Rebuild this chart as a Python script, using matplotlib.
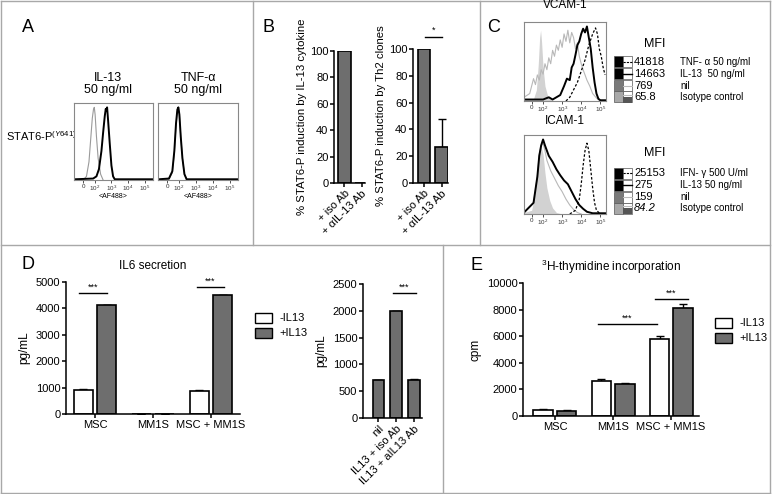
import numpy as np
import matplotlib
matplotlib.use("Agg")
import matplotlib.pyplot as plt
from matplotlib.patches import Rectangle

plt.rcParams['font.family'] = ['Liberation Sans', 'DejaVu Sans']
plt.rcParams['mathtext.fontset'] = 'custom'
plt.rcParams['mathtext.rm'] = 'Liberation Sans'
plt.rcParams['mathtext.it'] = 'Liberation Sans:italic'

W, H = 772, 494
BAR_GRAY = '#6e6e6e'
FRAME = '#a8a8a8'

# ---------------- data ----------------
# flow tick labels (decade units)
flow_ticks_a = [1.3, 2, 3, 4, 5]
flow_ticks_c = [1.4, 2, 3, 4, 5]
flow_tick_labels = ['0', '$10^2$', '$10^3$', '$10^4$', '$10^5$']

# panel A, IL-13 histogram
a_il13_gray_x = [0.8, 1.3, 1.5, 1.65, 1.75, 1.85, 1.92, 1.97, 2.02, 2.1, 2.2, 2.35, 2.5]
a_il13_gray_y = [0.0, 0.0, 0.05, 0.25, 0.55, 0.85, 0.97, 1.0, 0.9, 0.6, 0.3, 0.08, 0.0]
a_il13_black_x = [0.8, 1.9, 2.1, 2.25, 2.4, 2.5, 2.6, 2.66, 2.7, 2.74, 2.8, 2.9, 3.0, 3.1, 3.2, 5.5]
a_il13_black_y = [0.01, 0.02, 0.05, 0.15, 0.4, 0.65, 0.88, 0.98, 0.95, 1.0, 0.82, 0.5, 0.2, 0.05, 0.01, 0.01]
# panel A, TNF-a histogram
a_tnf_gray_x = [0.8, 1.4, 1.6, 1.72, 1.82, 1.9, 1.96, 2.02, 2.1, 2.2, 2.32, 2.45, 5.5]
a_tnf_gray_y = [0.0, 0.01, 0.1, 0.38, 0.75, 0.95, 0.99, 0.9, 0.6, 0.3, 0.08, 0.0, 0.0]
a_tnf_black_x = [0.8, 1.4, 1.6, 1.72, 1.82, 1.9, 1.96, 2.02, 2.1, 2.2, 2.32, 2.45, 5.5]
a_tnf_black_y = [0.01, 0.02, 0.12, 0.4, 0.78, 0.97, 1.0, 0.9, 0.6, 0.3, 0.08, 0.01, 0.01]

# panel B
b_labels = ['+ iso Ab', '+ \u03b1IL-13 Ab']
b_cytokine = [100, 0]
b_clones = [100, 27]
b_clones_err = [0, 21]

# panel C, VCAM-1
vcam_iso_x = [1.0, 1.5, 1.65, 1.75, 1.82, 1.87, 1.92, 2.0, 2.1, 2.25, 2.4, 2.6]
vcam_iso_y = [0.02, 0.03, 0.15, 0.5, 0.85, 0.95, 0.8, 0.45, 0.2, 0.06, 0.02, 0.0]
vcam_nil_x = [1.0, 1.3, 1.5, 1.6, 1.7, 1.8, 1.9, 2.0, 2.1, 2.2, 2.3, 2.4, 2.5, 2.6, 2.7,
              2.8, 2.9, 3.0, 3.1, 3.2, 3.3, 3.4, 3.5, 3.6, 3.7, 3.8, 3.9, 4.0, 4.1, 4.2,
              4.3, 4.45, 4.6, 4.8, 5.0]
vcam_nil_y = [0.05, 0.1, 0.3, 0.22, 0.35, 0.28, 0.42, 0.36, 0.5, 0.42, 0.58, 0.5, 0.68, 0.6,
              0.75, 0.68, 0.82, 0.72, 0.9, 0.8, 0.95, 0.78, 0.92, 0.85, 0.7, 0.78, 0.6, 0.5,
              0.42, 0.35, 0.28, 0.2, 0.1, 0.04, 0.0]
vcam_il13_x = [1.0, 2.0, 2.3, 2.5, 2.9, 3.1, 3.25, 3.4, 3.5, 3.6, 3.7, 3.8, 3.9, 4.0, 4.1,
               4.2, 4.3, 4.4, 4.5, 4.6, 4.7, 4.8, 4.9, 5.0, 5.3]
vcam_il13_y = [0.02, 0.02, 0.05, 0.02, 0.08, 0.2, 0.3, 0.28, 0.45, 0.5, 0.62, 0.75, 0.8, 0.9,
               0.97, 0.92, 1.0, 0.85, 0.7, 0.45, 0.25, 0.1, 0.03, 0.01, 0.01]
vcam_tnf_x = [3.2, 3.4, 3.6, 3.8, 4.0, 4.2, 4.4, 4.6, 4.75, 4.85, 4.95, 5.05, 5.15, 5.25]
vcam_tnf_y = [0.0, 0.05, 0.15, 0.25, 0.4, 0.55, 0.75, 0.9, 0.98, 0.9, 0.7, 0.6, 0.45, 0.35]

# panel C, ICAM-1
icam_iso_x = [1.0, 1.4, 1.6, 1.7, 1.8, 1.9, 2.0, 2.1, 2.2, 2.35, 2.5, 2.7, 3.0]
icam_iso_y = [0.02, 0.05, 0.3, 0.6, 0.85, 0.9, 0.8, 0.55, 0.35, 0.18, 0.08, 0.02, 0.0]
icam_nil_x = [1.0, 1.5, 1.7, 1.8, 1.9, 2.0, 2.1, 2.2, 2.4, 2.6, 2.8, 3.0, 3.2, 3.4, 3.6, 3.8, 4.0]
icam_nil_y = [0.02, 0.15, 0.5, 0.8, 0.92, 0.95, 0.85, 0.72, 0.58, 0.48, 0.38, 0.3, 0.2, 0.12,
              0.06, 0.02, 0.0]
icam_il13_x = [1.0, 1.5, 1.7, 1.8, 1.9, 2.0, 2.1, 2.2, 2.3, 2.5, 2.7, 2.9, 3.1, 3.3, 3.5, 3.7,
               3.9, 4.1, 4.3, 4.6, 5.3]
icam_il13_y = [0.02, 0.15, 0.5, 0.78, 0.92, 1.0, 0.92, 0.85, 0.78, 0.7, 0.6, 0.52, 0.45, 0.4,
               0.3, 0.2, 0.12, 0.07, 0.03, 0.01, 0.01]
icam_ifn_x = [3.4, 3.7, 3.9, 4.0, 4.1, 4.2, 4.3, 4.4, 4.5, 4.6, 4.7, 4.8, 5.0]
icam_ifn_y = [0.0, 0.05, 0.2, 0.4, 0.65, 0.85, 0.95, 0.85, 0.6, 0.35, 0.15, 0.05, 0.0]

vcam_mfi = ['41818', '14663', '769', '65.8']
vcam_cond = ['TNF- \u03b1 50 ng/ml', 'IL-13  50 ng/ml', 'nil', 'Isotype control']
icam_mfi = ['25153', '275', '159', '84.2']
icam_cond = ['IFN- \u03b3 500 U/ml', 'IL-13 50 ng/ml', 'nil', 'Isotype control']

# panel D
d_groups = ['MSC', 'MM1S', 'MSC + MM1S']
d_minus = [920, 10, 860]
d_minus_err = [40, 0, 40]
d_plus = [4120, 10, 4490]
d_plus_err = [20, 0, 30]
d2_labels = ['nil', 'IL13 + iso Ab', 'IL13 + aIL13 Ab']
d2_values = [710, 2000, 710]
d2_err = [0, 0, 20]

# panel E
e_groups = ['MSC', 'MM1S', 'MSC + MM1S']
e_minus = [470, 2650, 5800]
e_minus_err = [40, 100, 250]
e_plus = [400, 2430, 8100]
e_plus_err = [50, 80, 300]


def px_axes(fig, x0, y0, x1, y1, **kw):
    return fig.add_axes([x0 / W, 1 - y1 / H, (x1 - x0) / W, (y1 - y0) / H], **kw)


def prism_style(ax, labelsize=8):
    ax.spines['top'].set_visible(False)
    ax.spines['right'].set_visible(False)
    for s in ['left', 'bottom']:
        ax.spines[s].set_linewidth(1.1)
    ax.tick_params(direction='out', length=3, width=1.1, labelsize=labelsize, pad=1)


def flow_style(ax, ticks, xlim):
    ax.set_xlim(*xlim)
    ax.set_ylim(0, 1.06)
    ax.set_yticks([])
    ax.set_xticks(ticks)
    ax.set_xticklabels(flow_tick_labels)
    ax.tick_params(axis='x', length=2, width=0.6, labelsize=4.5, pad=1, colors='#333')
    for s in ax.spines.values():
        s.set_color('#888')
        s.set_linewidth(0.8)


def sig(ax, x0, x1, y, dy, txt='***'):
    ax.plot([x0, x1], [y, y], color='black', lw=1, clip_on=False)
    ax.text((x0 + x1) / 2, y + dy, txt, ha='center', va='bottom', fontsize=6.5, clip_on=False)


def grouped(ax, minus, minus_err, plus, plus_err, width=0.34, off=0.2):
    x = np.arange(len(minus))
    ax.bar(x - off, minus, width, color='white', edgecolor='black', lw=1.2, zorder=2)
    ax.bar(x + off, plus, width, color=BAR_GRAY, edgecolor='black', lw=1.2, zorder=2)
    ax.errorbar(x - off, minus, yerr=[np.zeros(len(minus)), minus_err], fmt='none',
                ecolor='black', elinewidth=1, capsize=3, capthick=1, zorder=1)
    ax.errorbar(x + off, plus, yerr=[np.zeros(len(plus)), plus_err], fmt='none',
                ecolor='black', elinewidth=1, capsize=3, capthick=1, zorder=1)
    return x


fig = plt.figure(figsize=(W / 100, H / 100), dpi=100)

# background layer: frames, letters, legends
bg = fig.add_axes([0, 0, 1, 1], zorder=-5)
bg.set_xlim(0, W)
bg.set_ylim(H, 0)
bg.axis('off')
frame_lines = [((1, 770), (1, 1)), ((1, 770), (493, 493)), ((1, 1), (1, 493)),
               ((770, 770), (1, 493)), ((1, 770), (245, 245)), ((253, 253), (1, 245)),
               ((480, 480), (1, 245)), ((443, 443), (245, 493))]
for xs, ys in frame_lines:
    bg.plot(xs, ys, color=FRAME, lw=1)
for letter, lx, ly in [('A', 28, 28), ('B', 268, 27), ('C', 494, 27), ('D', 28, 264), ('E', 476, 265)]:
    bg.text(lx, ly, letter, fontsize=13, ha='center', va='center')

# ---------------- panel A ----------------
bg.text(6, 136, 'STAT6-P$^{(Y641)}$', fontsize=8, va='center', ha='left')
a1 = px_axes(fig, 74, 103, 153, 180)
a1.plot(a_il13_gray_x, a_il13_gray_y, color='#9a9a9a', lw=0.8)
a1.plot(a_il13_black_x, a_il13_black_y, color='black', lw=1.4)
flow_style(a1, flow_ticks_a, (0.75, 5.5))
a1.set_xlabel('<AF488>', fontsize=5, labelpad=0)
a2 = px_axes(fig, 158, 103, 238, 180)
a2.plot(a_tnf_gray_x, a_tnf_gray_y, color='#9a9a9a', lw=0.8)
a2.plot(a_tnf_black_x, a_tnf_black_y, color='black', lw=1.4)
flow_style(a2, flow_ticks_a, (0.75, 5.5))
a2.set_xlabel('<AF488>', fontsize=5, labelpad=0)
bg.text(108, 84, 'IL-13\n50 ng/ml', fontsize=9, ha='center', va='center', linespacing=1.0)
bg.text(198, 84, 'TNF-\u03b1\n50 ng/ml', fontsize=9, ha='center', va='center', linespacing=1.0)

# ---------------- panel B ----------------
b1 = px_axes(fig, 334, 51, 365, 183)
b1.bar(np.arange(2), b_cytokine, 0.72, color=BAR_GRAY, edgecolor='black', lw=1.2)
b1.set_xlim(-0.6, 1.2)
b1.set_ylim(0, 100)
b1.set_yticks(range(0, 101, 20))
b1.set_xticks(np.arange(2))
b1.set_xticklabels(b_labels, rotation=45, ha='right', rotation_mode='anchor')
prism_style(b1, 8)
b1.set_ylabel('% STAT6-P induction by IL-13 cytokine', fontsize=8.2, labelpad=2)

b2 = px_axes(fig, 413, 49, 448, 183)
bx = np.arange(2)
b2.bar(bx, b_clones, 0.7, color=BAR_GRAY, edgecolor='black', lw=1.2, zorder=2)
b2.errorbar(bx, b_clones, yerr=[np.zeros(2), b_clones_err], fmt='none', ecolor='black',
            elinewidth=1, capsize=3, capthick=1, zorder=1)
b2.set_xlim(-0.63, 1.37)
b2.set_ylim(0, 100)
b2.set_yticks(range(0, 101, 20))
b2.set_xticks(bx)
b2.set_xticklabels(b_labels, rotation=45, ha='right', rotation_mode='anchor')
prism_style(b2, 8)
b2.set_ylabel('% STAT6-P induction by Th2 clones', fontsize=8.2, labelpad=2)
sig(b2, 0.05, 1.03, 109, 2, '*')

# ---------------- panel C ----------------
c1 = px_axes(fig, 524, 22, 606, 101)
c1.fill_between(vcam_iso_x, vcam_iso_y, color='#d2d2d2', lw=0)
c1.plot(vcam_nil_x, vcam_nil_y, color='#b8b8b8', lw=0.8)
c1.plot(vcam_il13_x, vcam_il13_y, color='black', lw=1.4)
c1.plot(vcam_tnf_x, vcam_tnf_y, color='black', lw=0.9, ls=(0, (2, 1.5)))
flow_style(c1, flow_ticks_c, (1.0, 5.3))
bg.text(565, 5, 'VCAM-1', fontsize=8.5, ha='center', va='center')

c2 = px_axes(fig, 524, 135, 606, 214)
c2.fill_between(icam_iso_x, icam_iso_y, color='#d2d2d2', lw=0)
c2.plot(icam_nil_x, icam_nil_y, color='#b8b8b8', lw=0.8)
c2.plot(icam_il13_x, icam_il13_y, color='black', lw=1.4)
c2.plot(icam_ifn_x, icam_ifn_y, color='black', lw=0.9, ls=(0, (2, 1.5)))
flow_style(c2, flow_ticks_c, (1.0, 5.3))
bg.text(565, 121, 'ICAM-1', fontsize=8.5, ha='center', va='center')

box_fill = ['black', 'black', '#7a7a7a', '#a8a8a8']
box_line = [dict(color='black', lw=0.8, ls=(0, (2, 1))), dict(color='black', lw=1.0),
            dict(color='#bbbbbb', lw=0.8), dict(color='#bbbbbb', lw=0.8)]


def mfi_legend(top, rows_y, mfi, cond):
    bg.text(655, top, 'MFI', fontsize=9, ha='center', va='center')
    for i, yc in enumerate(rows_y):
        bg.add_patch(Rectangle((614, yc - 5.5), 9, 11, facecolor=box_fill[i],
                               edgecolor='#555', lw=0.5))
        bg.add_patch(Rectangle((623, yc - 5.5), 9, 11, facecolor='white',
                               edgecolor='#555', lw=0.5))
        if i == 3:
            bg.add_patch(Rectangle((623, yc), 9, 5.5, facecolor='#555', edgecolor='none'))
            bg.plot([623, 632], [yc - 2, yc - 2], **box_line[i])
        else:
            bg.plot([623, 632], [yc, yc], **box_line[i])
        bg.text(634, yc, mfi[i], fontsize=8, va='center', ha='left',
                style='italic' if mfi[i] == '84.2' else 'normal')
        bg.text(680, yc, cond[i], fontsize=7, va='center', ha='left')


mfi_legend(44, [62, 74, 86, 97], vcam_mfi, vcam_cond)
mfi_legend(153, [173, 185, 197, 208], icam_mfi, icam_cond)

# ---------------- panel D ----------------
d1 = px_axes(fig, 66, 282, 240, 414)
x = grouped(d1, d_minus, d_minus_err, d_plus, d_plus_err)
d1.set_xlim(-0.5, 2.5)
d1.set_ylim(0, 5000)
d1.set_yticks(range(0, 5001, 1000))
d1.set_xticks(x)
d1.set_xticklabels(d_groups)
prism_style(d1)
d1.set_ylabel('pg/mL', fontsize=8.5, labelpad=4)
sig(d1, -0.28, 0.21, 4580, 60)
sig(d1, 1.76, 2.22, 4810, 60)
bg.text(153, 266, 'IL6 secretion', fontsize=8.5, ha='center', va='center')
bg.add_patch(Rectangle((255, 313), 17, 10, facecolor='white', edgecolor='black', lw=1))
bg.add_patch(Rectangle((255, 328), 17, 10, facecolor=BAR_GRAY, edgecolor='black', lw=1))
bg.text(279, 318, '-IL13', fontsize=8, va='center')
bg.text(279, 333, '+IL13', fontsize=8, va='center')

d2 = px_axes(fig, 363, 284, 422, 418)
dx = np.arange(3)
d2.bar(dx, d2_values, 0.65, color=BAR_GRAY, edgecolor='black', lw=1.2, zorder=2)
d2.errorbar(dx, d2_values, yerr=[np.zeros(3), d2_err], fmt='none', ecolor='black',
            elinewidth=1, capsize=3, capthick=1, zorder=1)
d2.set_xlim(-0.87, 2.45)
d2.set_ylim(0, 2500)
d2.set_yticks(range(0, 2501, 500))
d2.set_xticks(dx)
d2.set_xticklabels(d2_labels, rotation=45, ha='right', rotation_mode='anchor', fontsize=8.5)
prism_style(d2)
d2.set_ylabel('pg/mL', fontsize=8.5, labelpad=4)
sig(d2, 0.82, 2.11, 2330, 30)

# ---------------- panel E ----------------
e = px_axes(fig, 523, 283, 699, 416)
x = grouped(e, e_minus, e_minus_err, e_plus, e_plus_err)
e.set_xlim(-0.55, 2.48)
e.set_ylim(0, 10000)
e.set_yticks(range(0, 10001, 2000))
e.set_xticks(x)
e.set_xticklabels(e_groups)
prism_style(e)
e.set_ylabel('cpm', fontsize=8.5, labelpad=4)
sig(e, 0.74, 1.76, 6920, 120)
sig(e, 1.72, 2.29, 8800, 120)
bg.text(611, 267, '$^3$H-thymidine incorporation', fontsize=8.5, ha='center', va='center')
bg.add_patch(Rectangle((715, 318), 17, 10, facecolor='white', edgecolor='black', lw=1))
bg.add_patch(Rectangle((715, 333), 17, 10, facecolor=BAR_GRAY, edgecolor='black', lw=1))
bg.text(739, 323, '-IL13', fontsize=8, va='center')
bg.text(739, 338, '+IL13', fontsize=8, va='center')

fig.savefig('out.png', dpi=100)
